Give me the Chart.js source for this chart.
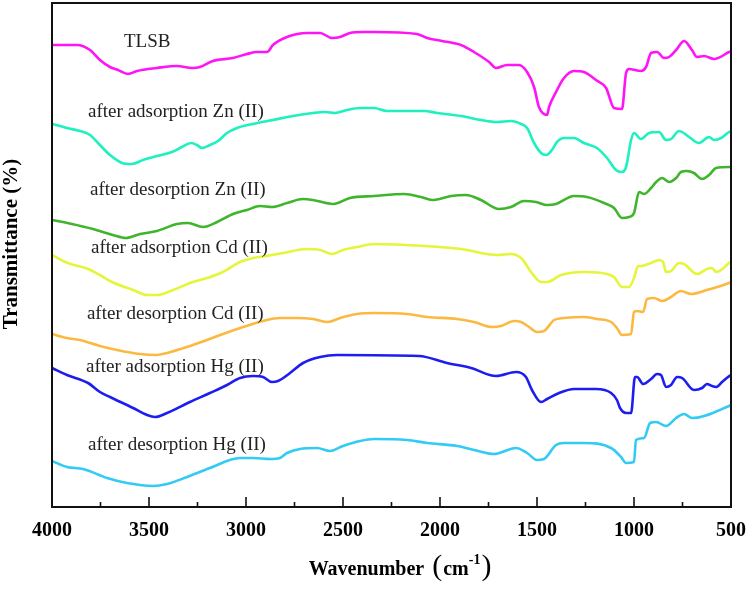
<!DOCTYPE html>
<html>
<head>
<meta charset="utf-8">
<script src="https://cdn.jsdelivr.net/npm/chart.js@4.4.1/dist/chart.umd.min.js"></script>
<style>
  html, body { margin: 0; padding: 0; background: #fff; }
  #wrap { width: 749px; height: 590px; }
</style>
</head>
<body>
<div id="wrap"><canvas id="ftir" width="749" height="590"></canvas></div>
<script>
// wavenumber (cm-1) and transmittance (offset units)
const tlsbWave = [4000,3871,3804,3753,3701,3660,3608,3562,3459,3356,3278,3237,3170,3067,2995,2943,2892,2861,2789,2685,2618,2557,2515,2464,2397,2340,2118,2067,1990,1892,1825,1747,1711,1654,1593,1551,1515,1490,1448,1438,1402,1361,1309,1258,1196,1144,1103,1062,1041,1026,964,938,912,881,845,819,783,742,701,675,639,587,510,500];
const tlsbT    = [462,462,457,447,440,437,433,436,439,441,439,440,446,449,453,455,455,462,470,474,474,469,470,474,475,475,473,469,466,462,455,445,439,442,442,435,420,400,392,400,415,429,436,435,427,419,399,398,434,438,436,440,454,455,449,450,457,466,457,450,451,448,455,456];

const znAdsWave = [4000,3923,3856,3804,3753,3701,3639,3588,3531,3459,3381,3330,3283,3253,3227,3186,3144,3098,3046,2964,2861,2758,2655,2593,2541,2479,2412,2340,2273,2082,2015,1892,1789,1706,1634,1582,1551,1515,1479,1453,1423,1397,1361,1309,1258,1191,1139,1093,1062,1041,1015,1000,964,922,871,835,809,768,716,665,613,587,551,510,500];
const znAdsT    = [383,379,376,372,362,352,344,343,347,351,355,360,364,362,359,362,366,374,379,383,387,391,394,395,394,397,399,399,396,396,394,391,387,385,386,383,379,364,354,352,357,365,369,369,364,359,349,337,335,340,367,374,368,374,375,367,368,376,370,364,370,367,369,375,376];

const znDesWave = [4000,3897,3789,3686,3619,3546,3459,3356,3299,3222,3149,3067,2995,2928,2866,2789,2706,2655,2551,2464,2340,2185,2098,2041,1943,1866,1789,1696,1634,1567,1505,1448,1402,1309,1242,1154,1103,1062,1026,1000,974,948,912,886,855,819,783,758,727,691,649,613,577,510,500];
const znDesT    = [287,283,278,272,269,273,276,283,284,280,285,293,297,301,300,304,308,307,303,309,311,313,310,307,311,312,307,298,300,306,305,302,303,311,310,304,299,289,290,294,315,313,319,325,329,325,329,335,336,334,328,332,339,340,340];

const cdAdsWave = [4000,3918,3814,3753,3691,3582,3510,3459,3376,3289,3201,3119,3031,2964,2892,2809,2685,2618,2557,2500,2428,2340,2082,1892,1706,1634,1577,1531,1479,1448,1376,1258,1139,1103,1062,1026,1000,979,964,912,871,850,835,809,768,742,675,624,598,577,551,510,500];
const cdAdsT    = [252,244,238,232,225,217,212,212,217,224,229,235,245,249,251,254,258,257,253,257,260,263,261,258,252,253,248,235,225,225,232,235,233,230,220,220,229,241,241,244,247,245,235,236,244,243,233,238,239,235,237,244,245];

const cdDesWave = [4000,3923,3856,3753,3665,3546,3459,3407,3304,3201,3119,3015,2912,2825,2737,2655,2577,2515,2428,2340,2170,2067,1912,1825,1732,1685,1618,1582,1541,1500,1464,1412,1361,1258,1191,1118,1088,1062,1015,1000,984,953,933,897,855,809,758,706,624,510,500];
const cdDesT    = [173,169,167,161,157,153,152,154,160,167,173,180,186,189,189,188,185,189,193,194,193,190,188,185,180,181,186,185,180,175,176,187,189,190,188,185,179,172,173,195,196,195,208,209,206,210,216,213,217,224,225];

const hgAdsWave = [4000,3923,3814,3753,3701,3582,3510,3469,3407,3289,3186,3098,3031,2964,2912,2866,2835,2773,2706,2618,2531,2108,1964,1840,1711,1608,1557,1526,1479,1448,1386,1309,1196,1118,1088,1072,1041,1015,995,984,953,912,881,861,835,809,778,752,691,649,624,598,577,546,515,500];
const hgAdsT    = [139,132,124,115,110,99,92,90,94,105,114,122,129,131,130,125,126,134,144,150,152,151,144,139,131,135,130,117,105,108,114,118,118,114,107,99,94,94,130,130,123,128,133,132,120,122,130,129,117,119,123,121,120,125,130,132];

const hgDesWave = [4000,3923,3840,3716,3613,3479,3407,3304,3186,3031,2964,2876,2825,2789,2722,2634,2567,2500,2412,2340,2170,2067,1912,1825,1722,1608,1551,1500,1464,1402,1361,1258,1118,1067,1041,1000,990,948,917,886,835,783,742,701,510,500];
const hgDesT    = [46,40,38,29,24,21,23,30,39,49,49,48,49,54,58,59,56,61,66,68,67,64,61,57,53,59,54,47,48,62,64,64,59,50,44,45,67,69,84,85,81,89,93,89,101,102];

const seriesNames = ["TLSB", "after adsorption Zn (II)", "after desorption Zn (II)", "after adsorption Cd (II)",
                     "after desorption Cd (II)", "after adsorption Hg (II)", "after desorption Hg (II)"];
const xTicks = [4000, 3500, 3000, 2500, 2000, 1500, 1000, 500];

const colors = ["#ff14f5", "#1ef0bf", "#3fb52c", "#e4f53a", "#fcb942", "#1d1df0", "#32cbf3"];
const waves = [tlsbWave, znAdsWave, znDesWave, cdAdsWave, cdDesWave, hgAdsWave, hgDesWave];
const vals  = [tlsbT, znAdsT, znDesT, cdAdsT, cdDesT, hgAdsT, hgDesT];

// where each curve name sits (wavenumber of left edge, height of text centre)
const labelSpots = [[3629, 465], [3814, 395], [3804, 317], [3799, 259], [3820, 193], [3825, 140], [3814, 62]];

const datasets = seriesNames.map((name, i) => ({
  label: name,
  data: waves[i].map((w, j) => ({ x: w, y: vals[i][j] })),
  borderColor: colors[i],
  borderWidth: 2.6,
  pointRadius: 0,
  cubicInterpolationMode: "monotone",
  fill: false
}));

const serif = "'Liberation Serif', 'Times New Roman', serif";

const framePlugin = {
  id: "frame",
  afterDatasetsDraw(chart) {
    const { ctx, chartArea: a, scales } = chart;
    ctx.save();
    // inward ticks
    ctx.strokeStyle = "#111";
    ctx.lineWidth = 1.6;
    for (let w = 750; w < 4000; w += 250) {
      const px = scales.x.getPixelForValue(w);
      const len = w % 500 === 0 ? 10 : 5;
      ctx.beginPath();
      ctx.moveTo(px, a.bottom);
      ctx.lineTo(px, a.bottom - len);
      ctx.stroke();
    }
    ctx.lineWidth = 2;
    ctx.strokeRect(a.left, a.top, a.right - a.left, a.bottom - a.top);

    // curve names
    ctx.fillStyle = "#222";
    ctx.font = "19px " + serif;
    ctx.textAlign = "left";
    ctx.textBaseline = "middle";
    seriesNames.forEach((name, i) => {
      const [w, v] = labelSpots[i];
      ctx.fillText(name, scales.x.getPixelForValue(w), scales.y.getPixelForValue(v));
    });

    // y title
    ctx.fillStyle = "#000";
    ctx.font = "bold 21px " + serif;
    ctx.textAlign = "center";
    ctx.translate(12, 244);
    ctx.rotate(-Math.PI / 2);
    ctx.fillText("Transmittance (%)", 0, 0);
    ctx.restore();

    // x title with superscript
    ctx.save();
    ctx.fillStyle = "#000";
    ctx.textBaseline = "alphabetic";
    ctx.textAlign = "left";
    const parts = [
      { t: "Wavenumber", f: "bold 20px " + serif, dy: 0, gap: 8 },
      { t: "(", f: "30px " + serif, dy: 0, gap: 1 },
      { t: "cm", f: "bold 20px " + serif, dy: 0, gap: 0 },
      { t: "-1", f: "bold 14px " + serif, dy: -11, gap: 1 },
      { t: ")", f: "30px " + serif, dy: 0, gap: 0 }
    ];
    let total = 0;
    parts.forEach(p => { ctx.font = p.f; p.w = ctx.measureText(p.t).width; total += p.w + p.gap; });
    let x = 400 - total / 2;
    const base = 575;
    parts.forEach(p => {
      ctx.font = p.f;
      ctx.fillText(p.t, x, base + p.dy);
      x += p.w + p.gap;
    });
    ctx.restore();
  }
};

new Chart(document.getElementById("ftir"), {
  type: "line",
  data: { datasets },
  options: {
    responsive: false,
    animation: false,
    layout: { padding: { top: 3, right: 18, left: 0, bottom: 0 } },
    plugins: { legend: { display: false }, tooltip: { enabled: false } },
    scales: {
      x: {
        type: "linear",
        reverse: true,
        min: 500,
        max: 4000,
        afterFit: s => { s.height = 83; s.paddingLeft = 0; s.paddingRight = 0; },
        afterBuildTicks: s => { s.ticks = xTicks.map(v => ({ value: v })); },
        grid: { display: false, drawTicks: false },
        border: { display: false },
        ticks: {
          color: "#000",
          padding: 12,
          maxRotation: 0,
          callback: v => String(v),
          font: { family: serif, size: 20, weight: "bold" }
        }
      },
      y: {
        min: 0,
        max: 504,
        afterFit: s => { s.width = 52; },
        grid: { display: false, drawTicks: false },
        border: { display: false },
        ticks: { display: false }
      }
    }
  },
  plugins: [framePlugin]
});
</script>
</body>
</html>
